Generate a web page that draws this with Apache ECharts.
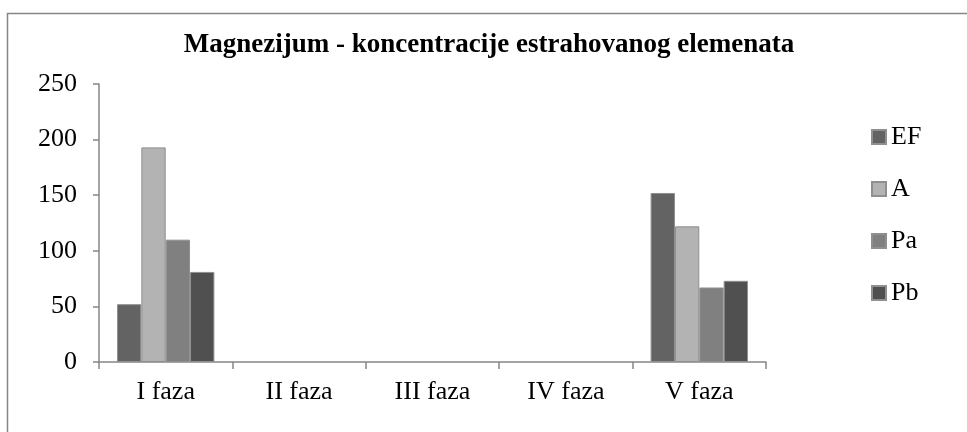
<!DOCTYPE html>
<html>
<head>
<meta charset="utf-8">
<script src="https://cdn.jsdelivr.net/npm/echarts@6/dist/echarts.min.js"></script>
<style>
  html, body { margin: 0; padding: 0; background: #fff; }
  #main { width: 967px; height: 432px; }
</style>
</head>
<body>
<div id="main"></div>
<script>
// podaci
var categories = ['I faza', 'II faza', 'III faza', 'IV faza', 'V faza'];
var seriesNames = ['EF', 'A', 'Pa', 'Pb'];
var valuesEF = [52, 0, 0, 0, 152];
var valuesA = [193, 0, 0, 0, 122];
var valuesPa = [110, 0, 0, 0, 67];
var valuesPb = [81, 0, 0, 0, 73];
var colors = ['#636363', '#b3b3b3', '#808080', '#505050'];

var font = '"Liberation Serif", "Times New Roman", serif';
var allValues = [valuesEF, valuesA, valuesPa, valuesPb];

var chart = echarts.init(document.getElementById('main'));
var option = {
    animation: false,
    color: colors,
    textStyle: { fontFamily: font },
    title: {
        text: 'Magnezijum - koncentracije estrahovanog elemenata',
        left: 484,
        textAlign: 'center',
        top: 27,
        textStyle: { fontFamily: font, fontSize: 27, fontWeight: 'bold', color: '#000' }
    },
    legend: {
        orient: 'vertical',
        left: 866,
        top: 119,
        icon: 'rect',
        itemWidth: 14,
        itemHeight: 14,
        itemGap: 26,
        textStyle: { fontFamily: font, fontSize: 26, color: '#000' },
        data: seriesNames
    },
    grid: { left: 99, right: 201, top: 84, bottom: 70 },
    xAxis: {
        type: 'category',
        data: categories,
        axisLine: { lineStyle: { color: '#868686', width: 1.5 } },
        axisTick: { show: true, length: 7, lineStyle: { color: '#868686', width: 1.5 } },
        axisLabel: { fontFamily: font, fontSize: 26, color: '#000', margin: 17 }
    },
    yAxis: {
        type: 'value',
        min: 0,
        max: 250,
        interval: 50,
        axisLine: { show: true, lineStyle: { color: '#868686', width: 1.5 } },
        axisTick: { show: true, length: 6, lineStyle: { color: '#868686', width: 1.5 } },
        splitLine: { show: false },
        axisLabel: { fontFamily: font, fontSize: 26, color: '#000', margin: 22 }
    },
    graphic: [{
        type: 'rect',
        shape: { x: 7.5, y: 13.5, width: 1100, height: 600 },
        style: { fill: 'none', stroke: '#868686', lineWidth: 1.5 },
        silent: true
    }],
    series: seriesNames.map(function (name, i) {
        return {
            name: name,
            type: 'bar',
            data: allValues[i].map(function (v) { return v === 0 ? '-' : v; }),
            barGap: '0%',
            barCategoryGap: '27%',
            itemStyle: { color: colors[i], borderColor: '#8f8f8f', borderWidth: 1 }
        };
    })
};
chart.setOption(option);
</script>
</body>
</html>
